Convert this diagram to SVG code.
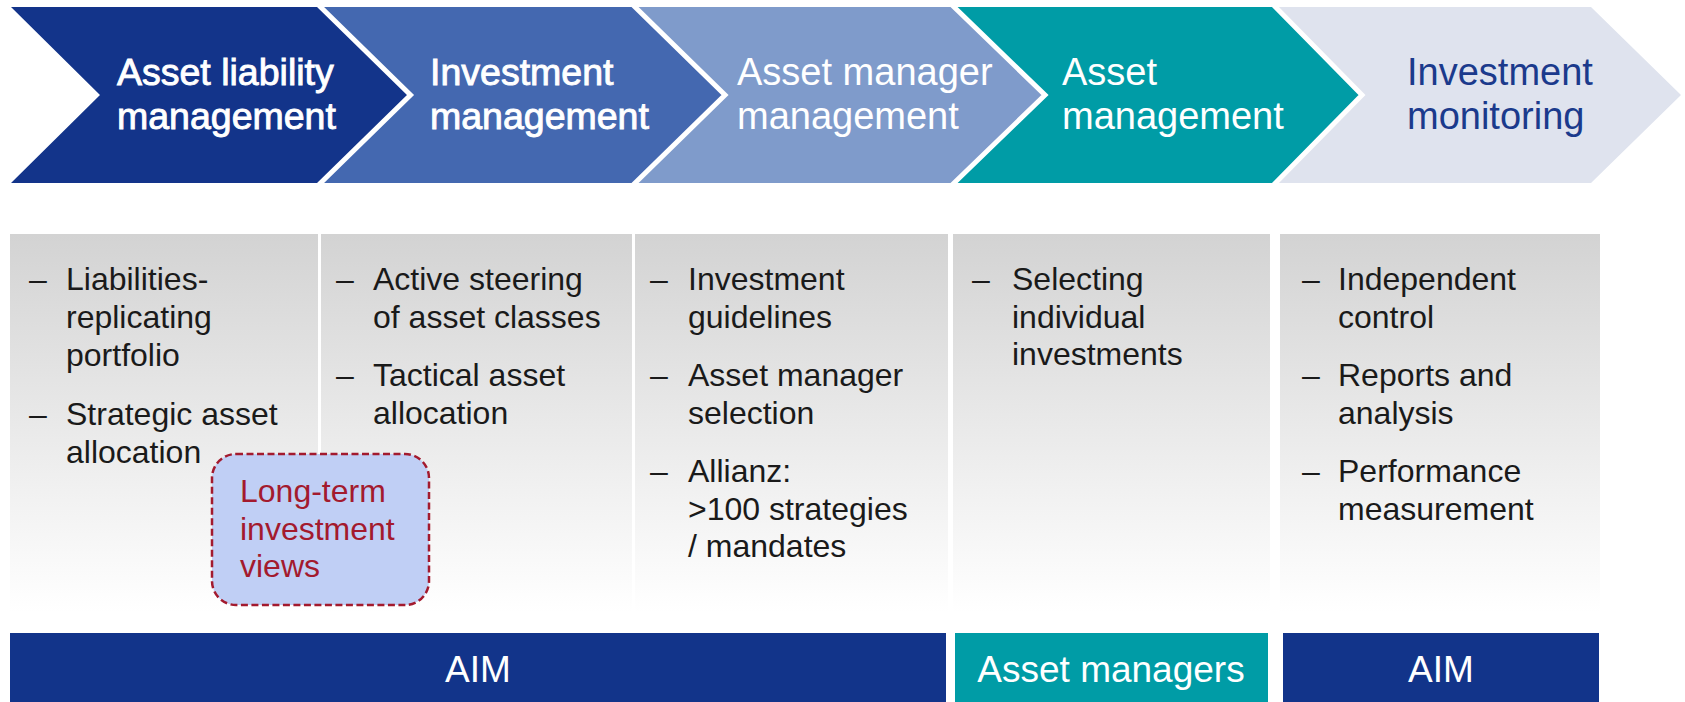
<svg xmlns="http://www.w3.org/2000/svg" width="1685" height="702" viewBox="0 0 1685 702">
<defs>
<linearGradient id="colgrad" x1="0" y1="0" x2="0" y2="1">
<stop offset="0" stop-color="#d3d3d3"/>
<stop offset="0.5" stop-color="#e9e9e9"/>
<stop offset="1" stop-color="#ffffff"/>
</linearGradient>
</defs>
<style>
text{font-family:"Liberation Sans",Arial,sans-serif}
.t1{font-size:37.5px;fill:#ffffff;stroke:#ffffff;stroke-width:0.9px}
.t2{font-size:38px;fill:#ffffff}
.t5{font-size:38px;fill:#1b3a8c}
.b{font-size:32px;fill:#1a1a1a}
.col{fill:url(#colgrad)}
.bar{font-size:37px;fill:#ffffff;text-anchor:middle}
.sep{fill:none;stroke:#ffffff;stroke-width:5}
</style>
<rect width="1685" height="702" fill="#ffffff"/>

<g id="chevron-alm">
<polygon points="11,7 318.5,7 410.5,95 318.5,183 11,183 100,95" fill="#13348a"/>
<text class="t1" x="117" y="85">Asset liability</text>
<text class="t1" x="117" y="129">management</text>
</g>
<g id="chevron-im">
<polygon points="318.5,7 633,7 725,95 633,183 318.5,183 410.5,95" fill="#4468b0"/>
<text class="t1" x="430" y="85">Investment</text>
<text class="t1" x="430" y="129">management</text>
</g>
<g id="chevron-amm">
<polygon points="633,7 952,7 1045,95 952,183 633,183 725,95" fill="#7f9bcb"/>
<text class="t2" x="737" y="85">Asset manager</text>
<text class="t2" x="737" y="129">management</text>
</g>
<g id="chevron-am">
<polygon points="952,7 1273.5,7 1362,95 1273.5,183 952,183 1045,95" fill="#009ca6"/>
<text class="t2" x="1062" y="85">Asset</text>
<text class="t2" x="1062" y="129">management</text>
</g>
<g id="chevron-imon">
<polygon points="1273.5,7 1591,7 1681,95 1591,183 1273.5,183 1362,95" fill="#dfe3ee"/>
<text class="t5" x="1407" y="85">Investment</text>
<text class="t5" x="1407" y="129">monitoring</text>
</g>
<g id="separators">
<polyline class="sep" points="318.5,5 410.5,95 318.5,185"/>
<polyline class="sep" points="633,5 725,95 633,185"/>
<polyline class="sep" points="952,5 1045,95 952,185"/>
<polyline class="sep" points="1273.5,5 1362,95 1273.5,185"/>
</g>

<g id="col-alm">
<rect class="col" x="10" y="234" width="308" height="378"/>
<text class="b" x="29" y="290">–</text>
<text class="b" x="66" y="290">Liabilities-</text>
<text class="b" x="66" y="328">replicating</text>
<text class="b" x="66" y="366">portfolio</text>
<text class="b" x="29" y="425">–</text>
<text class="b" x="66" y="425">Strategic asset</text>
<text class="b" x="66" y="463">allocation</text>
</g>
<g id="col-im">
<rect class="col" x="321" y="234" width="311" height="378"/>
<text class="b" x="336" y="290">–</text>
<text class="b" x="373" y="290">Active steering</text>
<text class="b" x="373" y="328">of asset classes</text>
<text class="b" x="336" y="386">–</text>
<text class="b" x="373" y="386">Tactical asset</text>
<text class="b" x="373" y="424">allocation</text>
</g>
<g id="col-amm">
<rect class="col" x="635" y="234" width="313" height="378"/>
<text class="b" x="650" y="290">–</text>
<text class="b" x="688" y="290">Investment</text>
<text class="b" x="688" y="328">guidelines</text>
<text class="b" x="650" y="386">–</text>
<text class="b" x="688" y="386">Asset manager</text>
<text class="b" x="688" y="424">selection</text>
<text class="b" x="650" y="482">–</text>
<text class="b" x="688" y="482">Allianz:</text>
<text class="b" x="688" y="520">&gt;100 strategies</text>
<text class="b" x="688" y="557">/ mandates</text>
</g>
<g id="col-am">
<rect class="col" x="953" y="234" width="317" height="378"/>
<text class="b" x="972" y="290">–</text>
<text class="b" x="1012" y="290">Selecting</text>
<text class="b" x="1012" y="328">individual</text>
<text class="b" x="1012" y="365">investments</text>
</g>
<g id="col-imon">
<rect class="col" x="1280" y="234" width="320" height="378"/>
<text class="b" x="1302" y="290">–</text>
<text class="b" x="1338" y="290">Independent</text>
<text class="b" x="1338" y="328">control</text>
<text class="b" x="1302" y="386">–</text>
<text class="b" x="1338" y="386">Reports and</text>
<text class="b" x="1338" y="424">analysis</text>
<text class="b" x="1302" y="482">–</text>
<text class="b" x="1338" y="482">Performance</text>
<text class="b" x="1338" y="520">measurement</text>
</g>

<g id="long-term-views">
<rect x="212" y="454" width="217" height="151" rx="24" ry="24" fill="#c0cff5" stroke="#a31a2e" stroke-width="2.5" stroke-dasharray="7,3.5"/>
<text x="240" y="502" font-size="32" fill="#a31a2e">Long-term</text>
<text x="240" y="540" font-size="32" fill="#a31a2e">investment</text>
<text x="240" y="577" font-size="32" fill="#a31a2e">views</text>
</g>

<g id="bar-aim-left">
<rect x="10" y="633" width="936" height="69" fill="#12348a"/>
<text class="bar" x="478" y="682">AIM</text>
</g>
<g id="bar-asset-managers">
<rect x="955" y="633" width="313" height="69" fill="#009ca6"/>
<text class="bar" x="1111" y="682">Asset managers</text>
</g>
<g id="bar-aim-right">
<rect x="1283" y="633" width="316" height="69" fill="#12348a"/>
<text class="bar" x="1441" y="682">AIM</text>
</g>
<g id="connectors"/>
</svg>
